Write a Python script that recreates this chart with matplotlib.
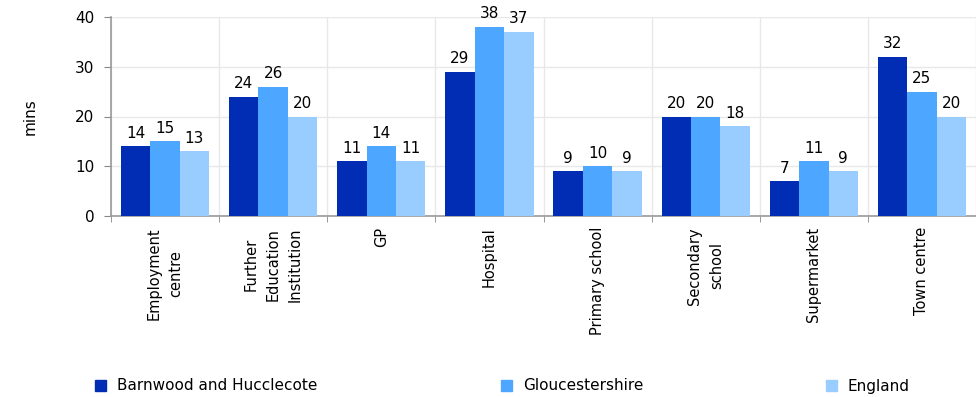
import matplotlib
matplotlib.use("Agg")
import matplotlib.pyplot as plt
from matplotlib.patches import Patch
import numpy as np

plt.rcParams['font.family'] = ['DejaVu Sans']

categories = ["Employment\ncentre", "Further\nEducation\nInstitution", "GP", "Hospital",
              "Primary school", "Secondary\nschool", "Supermarket", "Town centre"]
series_names = ["Barnwood and Hucclecote", "Gloucestershire", "England"]
barnwood = [14, 24, 11, 29, 9, 20, 7, 32]
gloucestershire = [15, 26, 14, 38, 10, 20, 11, 25]
england = [13, 20, 11, 37, 9, 18, 9, 20]
colors = ["#002DB3", "#4DA6FF", "#99CCFF"]

fig = plt.figure(figsize=(9.76, 3.97), dpi=100)
ax = fig.add_axes([111/976, 1-216/397, 1-111/976, (216-17)/397])

x = np.arange(len(categories))
w = 0.272
for i, (vals, c) in enumerate(zip([barnwood, gloucestershire, england], colors)):
    pos = x + (i - 1) * w
    bars = ax.bar(pos, vals, width=w, color=c, zorder=3, label=series_names[i])
    for b, v in zip(bars, vals):
        ax.annotate(str(v), (b.get_x() + b.get_width()/2, v), xytext=(0, 4),
                    textcoords="offset points", ha="center", va="bottom", fontsize=11)

ax.set_xlim(-0.5, len(categories) - 0.5)
ax.set_ylim(0, 40)
ax.set_yticks([0, 10, 20, 30, 40])
ax.set_xticks(x)
ax.set_xticklabels(categories, rotation=90, ha="center", va="top",
                   multialignment="center", linespacing=1.55, fontsize=10.5)
ax.set_xticks(np.arange(-0.5, len(categories)), minor=True)
ax.tick_params(axis="x", which="major", length=0, pad=8)
ax.tick_params(axis="x", which="minor", length=4, color="#888888")
ax.tick_params(axis="y", length=5, color="#888888", labelsize=11, pad=7)
ax.grid(axis="y", color="#e8e8e8", linewidth=1, zorder=0)
ax.grid(axis="x", which="minor", color="#e8e8e8", linewidth=1, zorder=0)
for s in ["top", "right"]:
    ax.spines[s].set_visible(False)
for s in ["left", "bottom"]:
    ax.spines[s].set_color("#999999")
    ax.spines[s].set_linewidth(1.2)
ax.set_ylabel("mins", fontsize=11, labelpad=27)

legend_x = [95/976, 501/976, 826/976]
for name, c, lx in zip(series_names, colors, legend_x):
    fig.legend(handles=[Patch(color=c, label=name)], loc="center left",
               bbox_to_anchor=(lx, 1 - 386/397), frameon=False, fontsize=11,
               handlelength=0.72, handleheight=0.72, handletextpad=0.7, borderpad=0,
               borderaxespad=0)

fig.savefig("out.png", dpi=100)
